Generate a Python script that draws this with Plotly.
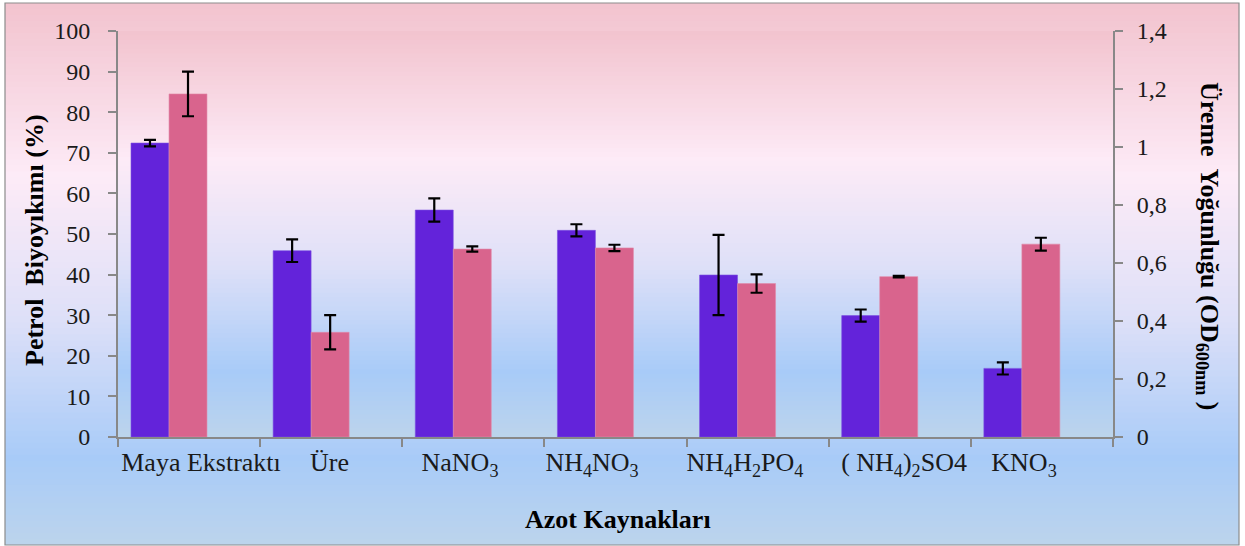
import plotly.graph_objects as go

# ---- data ----
categories = ["Maya Ekstraktı", "Üre", "NaNO<sub>3</sub>", "NH<sub>4</sub>NO<sub>3</sub>",
              "NH<sub>4</sub>H<sub>2</sub>PO<sub>4</sub>", "( NH<sub>4</sub>)<sub>2</sub>SO4", "KNO<sub>3</sub>"]
biodeg = [72.4, 45.9, 55.9, 50.9, 39.9, 29.9, 16.9]          # Petrol Biyoyıkımı (%)
biodeg_err = [0.8, 2.8, 2.85, 1.5, 9.9, 1.5, 1.5]
od600 = [1.183, 0.361, 0.648, 0.652, 0.529, 0.553, 0.665]     # Üreme Yoğunluğu (OD600nm)
od600_err = [0.077, 0.059, 0.009, 0.011, 0.0315, 0.003, 0.022]
left_ticks = [0, 10, 20, 30, 40, 50, 60, 70, 80, 90, 100]
right_ticks = [0, 0.2, 0.4, 0.6, 0.8, 1.0, 1.2, 1.4]
right_ticktext = ["0", "0,2", "0,4", "0,6", "0,8", "1", "1,2", "1,4"]

# ---- layout helpers (positions / styles) ----
label_pos = [0.084, 0.988, 1.906, 2.835, 3.911, 5.03, 5.874]   # where the category labels sit
idx = list(range(len(categories)))
W, H = 1245, 546
L, R, T, B = 118, 1113, 31, 437
BLUE = "#6323DA"
PINK = "#D9648D"
FONT = "Liberation Serif"

def px_to_paper_x(px):
    return (px - L) / (R - L)

def px_to_paper_y(py):
    return (B - py) / (B - T)

stops = [(0.0, (242, 195, 206)), (0.32, (253, 235, 247)), (0.58, (222, 224, 248)),
         (0.84, (168, 203, 248)), (1.0, (188, 212, 236))]

def color_at(t):
    for (t0, c0), (t1, c1) in zip(stops[:-1], stops[1:]):
        if t <= t1:
            f = (t - t0) / (t1 - t0) if t1 > t0 else 0
            return "rgb(%d,%d,%d)" % tuple(round(a + (b - a) * f) for a, b in zip(c0, c1))
    return "rgb(%d,%d,%d)" % stops[-1][1]

def gradient_shapes(x0, x1, ytop, ybot, n=90):
    shp = []
    for i in range(n):
        t = (i + 0.5) / n
        y_a = ytop + (ybot - ytop) * i / n
        y_b = ytop + (ybot - ytop) * (i + 1) / n + 0.8
        shp.append(dict(type="rect", xref="paper", yref="paper", layer="below",
                        x0=px_to_paper_x(x0), x1=px_to_paper_x(x1),
                        y0=px_to_paper_y(min(y_b, ybot)), y1=px_to_paper_y(y_a),
                        line=dict(width=0), fillcolor=color_at(t)))
    return shp

shapes = gradient_shapes(5, 1239, 3, 545) + gradient_shapes(L, R, T, B)
shapes.append(dict(type="rect", xref="paper", yref="paper", layer="above",
                   x0=px_to_paper_x(5), x1=px_to_paper_x(1239),
                   y0=px_to_paper_y(545), y1=px_to_paper_y(3),
                   line=dict(color="#8C8C8C", width=1.2), fillcolor="rgba(0,0,0,0)"))

fig = go.Figure()
fig.add_trace(go.Bar(
    x=idx, y=biodeg, width=0.267, offset=-0.4085, marker=dict(color=BLUE, line=dict(width=0.6, color="#7A50E0")),
    error_y=dict(type="data", array=biodeg_err, color="black", thickness=2.2, width=6),
    name="Petrol Biyoyıkımı", yaxis="y", showlegend=False))
fig.add_trace(go.Bar(
    x=idx, y=od600, width=0.267, offset=-0.141, marker=dict(color=PINK, line=dict(width=0.6, color="#E08AA8")),
    error_y=dict(type="data", array=od600_err, color="black", thickness=2.2, width=6),
    name="Üreme Yoğunluğu", yaxis="y2", showlegend=False))

axis_line = dict(showline=True, linecolor="#888888", linewidth=2, showgrid=False, zeroline=False)
fig.update_layout(
    width=W, height=H,
    margin=dict(l=L, r=W - R, t=T, b=H - B),
    paper_bgcolor="white", plot_bgcolor="rgba(0,0,0,0)",
    font=dict(family=FONT, size=24, color="#1a1a1a"),
    barmode="overlay",
    shapes=shapes,
    xaxis=dict(range=[-0.5, 6.5], tickvals=label_pos, ticktext=categories, ticks="",
               ticklabelstandoff=1, tickfont=dict(family=FONT, size=26),
               minor=dict(tick0=-0.5, dtick=1, ticks="outside", ticklen=8, tickwidth=2, tickcolor="#888888"),
               **axis_line),
    yaxis=dict(range=[0, 100], tickvals=left_ticks, ticks="outside", ticklen=8, tickwidth=2,
               tickcolor="#888888", ticklabelstandoff=13, tickfont=dict(family=FONT, size=24), **axis_line),
    yaxis2=dict(range=[0, 1.4], tickvals=right_ticks, ticktext=right_ticktext, overlaying="y", side="right",
                ticks="outside", ticklen=8, tickwidth=2, tickcolor="#888888", ticklabelstandoff=9,
                tickfont=dict(family=FONT, size=24), **axis_line),
    annotations=[
        dict(text="<b>Petrol\u00a0 Biyoyıkımı (%)</b>", xref="paper", yref="paper",
             x=px_to_paper_x(34), y=px_to_paper_y(240), textangle=-90, showarrow=False,
             font=dict(family=FONT, size=26, color="black"), xanchor="center", yanchor="middle"),
        dict(text="<b>Üreme\u00a0 Yoğunluğu (OD<sub>600nm</sub> )</b>", xref="paper", yref="paper",
             x=px_to_paper_x(1208), y=px_to_paper_y(246), textangle=90, showarrow=False,
             font=dict(family=FONT, size=26, color="black"), xanchor="center", yanchor="middle"),
        dict(text="<b>Azot Kaynakları</b>", xref="paper", yref="paper",
             x=px_to_paper_x(618), y=px_to_paper_y(519), showarrow=False,
             font=dict(family=FONT, size=26, color="black"), xanchor="center", yanchor="middle"),
    ],
)

fig.write_html("out.html", config={"displayModeBar": False},
               post_script="document.body.style.margin='0';document.body.style.padding='0';")
